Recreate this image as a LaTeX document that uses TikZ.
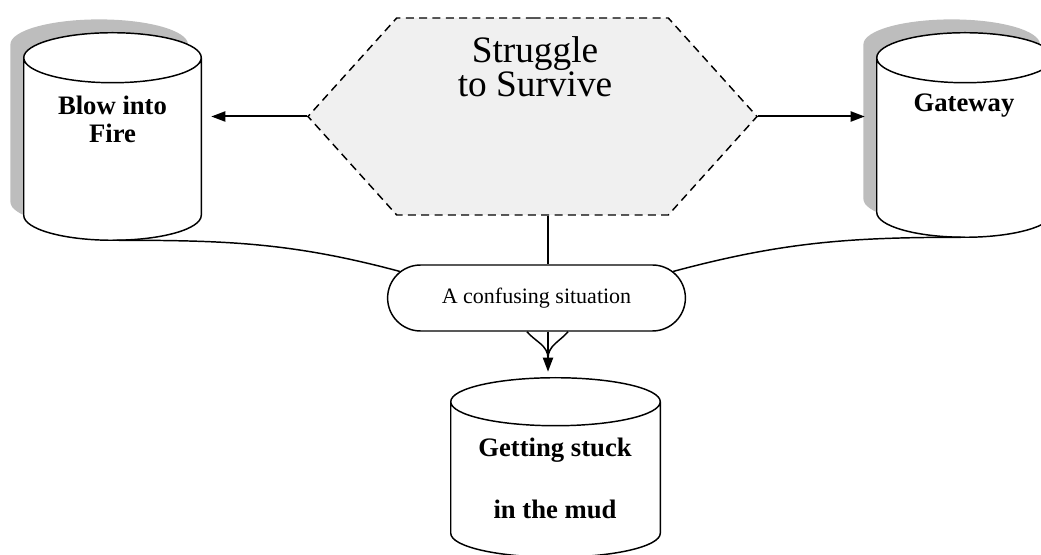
\documentclass[tikz,border=0pt]{standalone}
\usepackage{fontspec}
\setmainfont{Liberation Serif}
\usetikzlibrary{shapes.misc,shapes.symbols,shadows,arrows.meta,calc}

\tikzset{
    drumbox/.style={rectangle, inner sep=0pt},
    drumline/.style={draw, line width=1.1pt, fill=white},
    drumshade/.style={drop shadow={shadow xshift=-10pt, shadow yshift=10pt, fill=black!26, opacity=1}},
    drumtext/.style={align=center, anchor=base, font=\bfseries\fontsize{20}{21}\selectfont},
    link/.style={line width=1.1pt},
    pointer/.style={line width=1.5pt, -{Triangle[length=10.5pt, width=7.5pt]}},
}

% outline of a drum round a named box: #1 extra options, #2 box name, #3 radius of the ends
\newcommand\drumshape[3][]{%
    \path[drumline, #1] let \p1=(#2.north west), \p2=(#2.south east), \n1={(\x2-\x1)/2} in
        ([yshift=-#3]#2.north west) -- ([yshift=#3]#2.south west)
        arc[start angle=180, end angle=360, x radius=\n1, y radius=#3]
        -- ([yshift=-#3]#2.north east)
        arc[start angle=0, end angle=180, x radius=\n1, y radius=#3] -- cycle
        ([yshift=-#3]#2.north west)
        arc[start angle=180, end angle=360, x radius=\n1, y radius=#3];
}

\begin{document}
\begin{tikzpicture}[x=0.75pt, y=-0.75pt]

\useasboundingbox (0,0) rectangle (1041,555);

% the hexagon and its title
\node[signal, signal to=west and east, signal pointer angle=96, draw, dashed,
      dash pattern=on 6pt off 4pt, line width=1.1pt, fill=black!6,
      minimum width=336.75pt, minimum height=147.75pt, inner sep=0pt] (struggle) at (532.5,116.5) {};
\node[anchor=base, align=center, font=\fontsize{28}{25.5}\selectfont] (struggletxt) at (535,97) {Struggle\\ to Survive};

% the three drums
\node[drumbox, minimum width=132.75pt, minimum height=155.25pt] (blow) at (112.5,136.5) {};
\drumshape[drumshade]{blow}{18.75pt}
\node[drumtext] (blowtxt) at (112.5,143) {Blow into\\ Fire};

\node[drumbox, minimum width=132pt, minimum height=153pt] (gateway) at (965,135) {};
\drumshape[drumshade]{gateway}{18.75pt}
\node[drumtext] (gatewaytxt) at (964,112) {Gateway};

\node[drumbox, minimum width=156.75pt, minimum height=134.25pt] (stuck) at (555.5,467.5) {};
\drumshape{stuck}{18pt}
\node[drumtext, font=\bfseries\fontsize{20}{46.5}\selectfont] (stucktxt) at (555,518) {Getting stuck\\ in the mud};

% the pill in the middle
\node[rounded rectangle, draw, line width=1.1pt, fill=white, minimum width=230pt, minimum height=49.5pt,
      font=\fontsize{16.5}{18}\selectfont] (confuse) at (536.5,298) {A confusing situation};

\draw[pointer] (struggle.west) -- ([xshift=7.5pt]struggle.west -| blow.east);
\draw[pointer] (struggle.east) -- ([xshift=-9pt]struggle.east -| gateway.west);

\draw[link] (struggle.south -| 548,0) -- (confuse.north -| 548,0);
\draw[link] (blow.south) to[out=0, in=165] (confuse.169);
\draw[link] (gateway.south) to[out=180, in=15] (confuse.11);

\foreach \forkx/\forkang in {-21/-50, 20/-130}
    \draw[link] ([xshift=\forkx*0.75pt]confuse.south -| 548,0) to[out=\forkang, in=90] ([yshift=-20pt]confuse.south -| 548,0);
\draw[pointer] (confuse.south -| 548,0) -- ([yshift=4.5pt]stuck.north -| 548,0);

\end{tikzpicture}
\end{document}
